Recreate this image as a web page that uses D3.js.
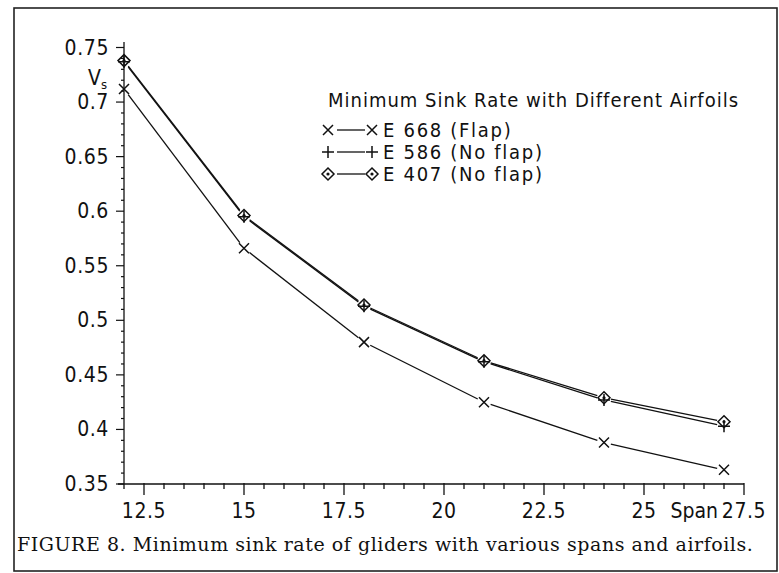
<!DOCTYPE html>
<html>
<head>
<meta charset="utf-8">
<script src="https://cdn.jsdelivr.net/npm/d3@7"></script>
<style>
  body { margin: 0; background: #fff; }
  svg text { fill: #111; }
  .plot { font-family: "DejaVu Sans Condensed", "DejaVu Sans", sans-serif; }
  .caption { font-family: "DejaVu Serif", "Liberation Serif", serif; }
</style>
</head>
<body>
<svg id="chart" width="779" height="573"></svg>
<script>
// data
const spans = [12, 15, 18, 21, 24, 27];
const e668 = [0.712, 0.566, 0.480, 0.425, 0.388, 0.363];
const e586 = [0.737, 0.595, 0.513, 0.462, 0.427, 0.403];
const e407 = [0.738, 0.596, 0.514, 0.463, 0.429, 0.407];
const seriesNames = ["E 668 (Flap)", "E 586 (No flap)", "E 407 (No flap)"];
const xTicks = [12.5, 15, 17.5, 20, 22.5, 25, 27.5];
const yTicks = [0.35, 0.4, 0.45, 0.5, 0.55, 0.6, 0.65, 0.7, 0.75];
const legendTitle = "Minimum Sink Rate with Different Airfoils";
const captionText = "FIGURE 8. Minimum sink rate of gliders with various spans and airfoils.";

function MakeChart() {
    const svg = d3.select("#chart");
    svg.selectAll("*").remove();

    // frame around the figure
    svg.append("rect")
        .attr("x", 14).attr("y", 8)
        .attr("width", 763).attr("height", 563)
        .attr("fill", "none")
        .attr("stroke", "#222")
        .attr("stroke-width", 1.6);

    const xScale = d3.scaleLinear().domain([12, 27.5]).range([124, 744]);
    const yScale = d3.scaleLinear().domain([0.35, 0.75]).range([484, 47.5]);
    const x0 = xScale(12), y0 = yScale(0.35);

    const g = svg.append("g").attr("class", "plot");

    // axis lines
    g.append("line")
        .attr("x1", x0 - 6).attr("x2", xScale(27.5))
        .attr("y1", y0).attr("y2", y0)
        .attr("stroke", "#111").attr("stroke-width", 1.3);
    g.append("line")
        .attr("x1", x0).attr("x2", x0)
        .attr("y1", yScale(0.755)).attr("y2", y0 + 5)
        .attr("stroke", "#111").attr("stroke-width", 1.3);

    // x ticks: minor every 0.5, major every 2.5
    const xMinor = d3.range(25, 56).map(d => d / 2);
    g.append("g").selectAll("line").data(xMinor).enter().append("line")
        .attr("x1", d => xScale(d)).attr("x2", d => xScale(d))
        .attr("y1", y0 - 1)
        .attr("y2", d => xTicks.includes(d) ? y0 + 11 : y0 + 5)
        .attr("stroke", "#111").attr("stroke-width", 1.3);

    // y ticks: minor every 0.01, major every 0.05
    const yMinor = d3.range(35, 76).map(d => d / 100);
    g.append("g").selectAll("line").data(yMinor).enter().append("line")
        .attr("y1", d => yScale(d)).attr("y2", d => yScale(d))
        .attr("x1", d => Math.round(d * 100) % 5 === 0 ? x0 - 8 : x0 - 3)
        .attr("x2", x0)
        .attr("stroke", "#111").attr("stroke-width", 1.2);

    // tick labels
    g.selectAll(".ylab").data(yTicks).enter().append("text")
        .attr("class", "ylab")
        .attr("x", x0 - 15)
        .attr("y", d => yScale(d) + 7)
        .attr("text-anchor", "end")
        .attr("font-size", 21)
        .attr("letter-spacing", 0.6)
        .text(d => d3.format("")(d));

    g.selectAll(".xlab").data(xTicks).enter().append("text")
        .attr("class", "xlab")
        .attr("x", d => xScale(d))
        .attr("y", y0 + 34)
        .attr("text-anchor", "middle")
        .attr("font-size", 21)
        .attr("letter-spacing", 0.6)
        .text(d => d);

    // axis names
    g.append("text")
        .attr("x", xScale(27.5) - 26)
        .attr("y", y0 + 34)
        .attr("text-anchor", "end")
        .attr("font-size", 21)
        .text("Span");
    const vs = g.append("text")
        .attr("x", x0 - 36)
        .attr("y", yScale(0.7225) + 7)
        .attr("font-size", 21);
    vs.append("tspan").text("V");
    vs.append("tspan").attr("font-size", 13).attr("dy", 4).text("s");

    // markers
    function drawMarker(sel, kind, x, y) {
        const m = sel.append("g").attr("transform", `translate(${x},${y})`)
            .attr("stroke", "#111").attr("fill", "none").attr("stroke-width", 1.5);
        if (kind === "x") {
            m.append("path").attr("d", "M-5,-5L5,5M-5,5L5,-5");
        } else if (kind === "+") {
            m.append("path").attr("d", "M-6,0L6,0M0,-6L0,6");
        } else {
            m.append("path").attr("d", "M0,-6L6,0L0,6L-6,0Z");
            m.append("circle").attr("r", 1.6).attr("fill", "#111").attr("stroke", "none");
        }
    }

    // series lines, stopping short of each marker like the plotter drawing
    const gap = 7;
    function drawSeries(values, kind, width) {
        const pts = spans.map((s, i) => [xScale(s), yScale(values[i])]);
        const segs = d3.pairs(pts).map(([a, b]) => {
            const dx = b[0] - a[0], dy = b[1] - a[1];
            const len = Math.hypot(dx, dy);
            const ux = dx / len, uy = dy / len;
            return [[a[0] + ux * gap, a[1] + uy * gap], [b[0] - ux * gap, b[1] - uy * gap]];
        });
        g.append("g").selectAll("line").data(segs).enter().append("line")
            .attr("x1", d => d[0][0]).attr("y1", d => d[0][1])
            .attr("x2", d => d[1][0]).attr("y2", d => d[1][1])
            .attr("stroke", "#111").attr("stroke-width", width);
        pts.forEach(p => drawMarker(g, kind, p[0], p[1]));
    }
    drawSeries(e668, "x", 1.3);
    drawSeries(e586, "+", 1.3);
    drawSeries(e407, "d", 1.3);

    // legend
    const legend = g.append("g").attr("transform", "translate(328,107)");
    legend.append("text")
        .attr("x", 0).attr("y", 0)
        .attr("font-size", 20)
        .attr("letter-spacing", 1.0)
        .text(legendTitle);
    const kinds = ["x", "+", "d"];
    seriesNames.forEach((name, i) => {
        const yy = 23 + i * 22;
        drawMarker(legend, kinds[i], 0, yy);
        legend.append("line")
            .attr("x1", 9).attr("x2", 37).attr("y1", yy).attr("y2", yy)
            .attr("stroke", "#111").attr("stroke-width", 1.3);
        drawMarker(legend, kinds[i], 44, yy);
        legend.append("text")
            .attr("x", 55).attr("y", yy + 7)
            .attr("font-size", 20)
            .attr("letter-spacing", 1.7)
            .text(name);
    });

    // caption
    svg.append("text")
        .attr("class", "caption")
        .attr("x", 17).attr("y", 551)
        .attr("font-size", 19)
        .attr("letter-spacing", 0.55)
        .text(captionText);
}

MakeChart();
</script>
</body>
</html>
